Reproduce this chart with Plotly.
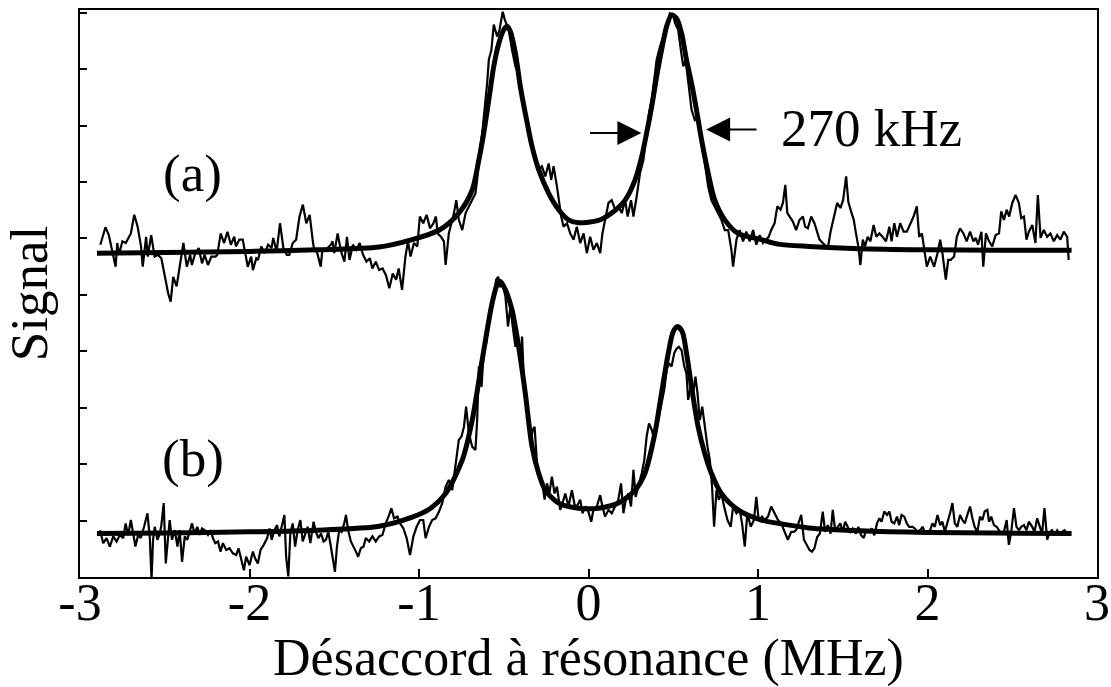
import plotly.graph_objects as go

# --- data (MHz detuning, signal in arbitrary units) ---

# trace (a): measured signal
a_x = [-2.88, -2.85, -2.83, -2.81, -2.79, -2.78, -2.77, -2.75, -2.73, -2.70,
       -2.68, -2.66, -2.64, -2.63, -2.61, -2.60, -2.58, -2.56, -2.54, -2.52,
       -2.50, -2.48, -2.465, -2.45, -2.43, -2.41, -2.39, -2.37, -2.35, -2.34,
       -2.32, -2.30, -2.28, -2.265, -2.245, -2.225, -2.20, -2.19, -2.17, -2.15,
       -2.13, -2.11, -2.09, -2.08, -2.06, -2.04, -2.025, -2.01, -1.99, -1.98,
       -1.96, -1.95, -1.93, -1.91, -1.89, -1.87, -1.86, -1.84, -1.82, -1.80,
       -1.78, -1.765, -1.745, -1.725, -1.705, -1.685, -1.665, -1.645, -1.625, -1.62,
       -1.60, -1.58, -1.57, -1.55, -1.52, -1.51, -1.50, -1.48, -1.46, -1.44,
       -1.425, -1.41, -1.39, -1.37, -1.35, -1.33, -1.31, -1.29, -1.275, -1.255,
       -1.235, -1.215, -1.195, -1.175, -1.155, -1.135, -1.12, -1.10, -1.08, -1.065,
       -1.05, -1.03, -1.01, -0.995, -0.975, -0.955, -0.935, -0.915, -0.90, -0.89,
       -0.87, -0.853,
       -0.843, -0.824, -0.794, -0.780, -0.765, -0.745, -0.725, -0.706, -0.686, -0.667,
       -0.657, -0.647, -0.627, -0.612, -0.598, -0.588, -0.573, -0.559, -0.539, -0.525,
       -0.506, -0.494, -0.471, -0.451, -0.431, -0.412, -0.392, -0.373, -0.353, -0.333,
       -0.314, -0.294, -0.275, -0.255, -0.235, -0.220, -0.206, -0.186, -0.176, -0.161,
       -0.147, -0.127, -0.108, -0.088, -0.069, -0.049, -0.029, -0.010, 0.010, 0.029,
       0.049, 0.069, 0.082, 0.098, 0.118, 0.137, 0.157, 0.176, 0.196, 0.216,
       0.231, 0.251, 0.265, 0.284, 0.304, 0.324, 0.343, 0.357, 0.373, 0.388,
       0.402, 0.422, 0.441, 0.461, 0.480, 0.500, 0.510, 0.529, 0.545, 0.559,
       0.573, 0.588, 0.608, 0.627, 0.647, 0.667, 0.686, 0.706, 0.725, 0.745,
       0.765, 0.784, 0.804, 0.824, 0.843, 0.853, 0.873, 0.892,
       0.912, 0.931, 0.951, 0.971, 0.990, 1.010, 1.029, 1.049, 1.063, 1.078,
       1.098, 1.114, 1.133, 1.147, 1.161, 1.173, 1.186, 1.206, 1.225, 1.245,
       1.265, 1.278, 1.294, 1.314, 1.333, 1.349, 1.363, 1.382, 1.412, 1.428,
       1.447, 1.467, 1.486, 1.502, 1.520, 1.533, 1.549, 1.565, 1.578, 1.592,
       1.604, 1.618, 1.631, 1.647, 1.663, 1.682, 1.698, 1.716, 1.735, 1.755,
       1.775, 1.788, 1.804, 1.820, 1.839, 1.859, 1.878, 1.898, 1.918, 1.937,
       1.951, 1.967, 1.980, 1.996, 2.016, 2.039, 2.059, 2.075, 2.088, 2.108,
       2.122, 2.137, 2.157, 2.173, 2.192, 2.212, 2.231, 2.251, 2.271, 2.284,
       2.298, 2.318, 2.329, 2.345, 2.363, 2.382, 2.402, 2.422, 2.435, 2.451,
       2.467, 2.482, 2.500, 2.520, 2.539, 2.553, 2.569, 2.584, 2.598, 2.618,
       2.637, 2.651, 2.667, 2.686, 2.706, 2.725, 2.745, 2.765, 2.784, 2.804,
       2.824, 2.833]
a_y = [5.89, 6.20, 6.06, 5.77, 5.50, 5.92, 5.71, 5.95, 5.92, 6.09,
       6.42, 6.21, 5.86, 5.50, 6.03, 5.68, 6.06, 5.68, 5.71, 5.65,
       5.32, 5.03, 4.88, 5.32, 5.15, 5.50, 5.92, 5.50, 5.71, 5.53,
       5.74, 5.83, 5.56, 5.71, 5.53, 5.68, 5.68, 5.71, 6.09, 5.92,
       6.12, 5.89, 6.03, 5.86, 5.98, 5.98, 5.71, 5.50, 5.68, 5.44,
       5.65, 5.62, 5.86, 5.74, 5.89, 5.83, 6.01, 5.77, 6.27, 5.83,
       5.71, 5.71, 5.92, 5.98, 6.39, 6.60, 6.27, 6.42, 5.92, 5.83,
       5.74, 5.50, 5.80, 5.80, 5.89, 5.95, 5.74, 6.09, 5.77, 5.59,
       6.03, 5.62, 5.89, 5.80, 5.92, 5.71, 5.59, 5.65, 5.47, 5.59,
       5.44, 5.47, 5.35, 5.12, 5.38, 5.27, 5.47, 5.09, 5.68, 5.95,
       5.68, 5.92, 5.86, 6.39, 6.27, 6.42, 6.18, 6.27, 6.39, 6.09,
       6.03, 5.95,
       5.53, 6.09, 6.45, 6.68, 6.33, 6.15, 6.45, 6.57, 6.68, 6.80,
       7.04, 7.45, 7.87, 8.28, 8.75, 9.17, 9.34, 9.79, 9.58, 9.70,
       10.02, 9.88, 9.70, 9.34, 9.05, 8.93, 8.58, 8.22, 7.87, 7.63,
       7.39, 7.22, 7.28, 7.10, 7.33, 7.04, 7.28, 6.92, 6.68, 6.39,
       6.21, 6.27, 6.09, 5.98, 6.21, 5.92, 6.09, 5.74, 6.03, 5.80,
       5.92, 5.74, 6.09, 6.33, 6.63, 6.68, 6.51, 6.57, 6.45, 6.68,
       6.39, 6.68, 6.39, 6.74, 7.16, 7.39, 7.87, 8.22, 8.46, 8.87,
       9.17, 9.40, 9.58, 9.76, 9.99, 9.96, 9.82, 9.70, 9.34, 9.05,
       9.17, 8.75, 8.28, 8.10, 8.16, 7.75, 7.33, 6.92, 6.68, 6.57,
       6.45, 6.33, 6.15, 6.15, 5.80, 5.50, 5.98, 6.15,
       5.95, 6.12, 5.95, 6.15, 5.89, 6.06, 5.92, 5.98, 6.03, 6.15,
       6.27, 6.57, 6.51, 6.63, 6.95, 6.45, 6.39, 6.30, 6.15, 6.33,
       6.39, 6.21, 6.18, 6.39, 6.27, 6.09, 5.98, 5.92, 5.83, 6.12,
       6.39, 6.63, 6.54, 6.68, 7.10, 6.65, 6.48, 6.33, 6.09, 5.86,
       5.53, 5.98, 5.86, 6.03, 5.95, 6.24, 6.03, 6.09, 6.03, 5.95,
       6.21, 5.95, 6.27, 6.03, 6.27, 6.12, 6.12, 6.27, 6.39, 6.57,
       6.03, 6.09, 5.86, 5.50, 5.68, 5.50, 5.74, 5.98, 5.74, 5.27,
       5.62, 5.62, 5.68, 6.03, 6.18, 6.09, 5.95, 6.12, 5.95, 6.01,
       5.89, 6.12, 5.50, 6.09, 5.95, 5.86, 6.06, 6.09, 6.48, 6.33,
       6.51, 6.39, 6.63, 6.77, 6.63, 6.36, 6.39, 5.98, 6.12, 6.24,
       5.92, 6.77, 6.01, 6.15, 6.03, 6.09, 5.95, 6.06, 5.98, 6.12,
       6.03, 5.62]

# trace (a): fitted curve
fit_a_x = [-2.9, -2.5, -2.0, -1.6, -1.235, -1.04, -0.88, -0.765, -0.686, -0.647,
           -0.618, -0.588, -0.559, -0.529, -0.50, -0.48, -0.461, -0.431, -0.402, -0.373,
           -0.333, -0.294, -0.235, -0.176, -0.118, -0.059, 0.059, 0.137, 0.216, 0.275,
           0.314, 0.343, 0.373, 0.402, 0.431, 0.461, 0.49, 0.52, 0.549, 0.578,
           0.608, 0.637, 0.667, 0.706, 0.745, 0.804, 0.882, 1.02, 1.12, 1.3,
           1.6, 2.0, 2.4, 2.85]
fit_a_y = [5.74, 5.75, 5.77, 5.80, 5.85, 5.98, 6.15, 6.45, 6.86, 7.39,
           7.87, 8.46, 9.05, 9.46, 9.70, 9.76, 9.67, 9.28, 8.69, 8.22,
           7.63, 7.22, 6.80, 6.51, 6.33, 6.28, 6.32, 6.45, 6.68, 7.04,
           7.45, 7.87, 8.34, 8.87, 9.34, 9.76, 9.96, 9.90, 9.64, 9.17,
           8.75, 8.28, 7.75, 7.16, 6.68, 6.33, 6.09, 5.98, 5.90, 5.86,
           5.82, 5.80, 5.79, 5.79]

# trace (b): measured signal
b_x = [-2.882, -2.863, -2.843, -2.824, -2.804, -2.784, -2.765, -2.745, -2.731, -2.716,
       -2.700, -2.686, -2.673, -2.657, -2.641, -2.622, -2.602, -2.588, -2.578, -2.569,
       -2.559, -2.543, -2.529, -2.520, -2.506, -2.494, -2.480, -2.471, -2.457, -2.441,
       -2.425, -2.412, -2.398, -2.382, -2.367, -2.353, -2.339, -2.324, -2.308, -2.294,
       -2.280, -2.265, -2.245, -2.229, -2.216, -2.202, -2.186, -2.171, -2.157, -2.137,
       -2.118, -2.098, -2.078, -2.065, -2.049, -2.033, -2.020, -2.000, -1.980, -1.967,
       -1.951, -1.935, -1.916, -1.896, -1.882, -1.869, -1.853, -1.837, -1.824, -1.810,
       -1.794, -1.784, -1.771, -1.759, -1.745, -1.731, -1.716, -1.700, -1.686, -1.673,
       -1.657, -1.641, -1.622, -1.608, -1.594, -1.578, -1.563, -1.549, -1.535, -1.520,
       -1.496, -1.484, -1.471, -1.457, -1.441, -1.431, -1.418, -1.402, -1.386, -1.372,
       -1.359, -1.343, -1.327, -1.314, -1.294, -1.275, -1.255, -1.235, -1.216, -1.196,
       -1.176, -1.163, -1.147, -1.127, -1.112, -1.092, -1.073, -1.053, -1.033, -1.014,
       -0.994, -0.975, -0.961, -0.941, -0.922, -0.902, -0.882, -0.863,
       -0.843, -0.824, -0.804, -0.784, -0.765, -0.749, -0.735, -0.722, -0.706, -0.686,
       -0.667, -0.657, -0.647, -0.631, -0.618, -0.604, -0.588, -0.573, -0.559, -0.545,
       -0.533, -0.520, -0.506, -0.490, -0.475, -0.461, -0.447, -0.431, -0.416, -0.402,
       -0.392, -0.382, -0.373, -0.357, -0.343, -0.329, -0.318, -0.304, -0.290, -0.275,
       -0.259, -0.245, -0.231, -0.216, -0.200, -0.186, -0.167, -0.153, -0.137, -0.118,
       -0.098, -0.082, -0.069, -0.049, -0.035, -0.020, -0.004, 0.016, 0.029, 0.049,
       0.069, 0.082, 0.098, 0.118, 0.137, 0.157, 0.176, 0.192, 0.206, 0.220,
       0.235, 0.251, 0.265, 0.278, 0.294, 0.314, 0.329, 0.343, 0.357, 0.373,
       0.388, 0.402, 0.416, 0.431, 0.447, 0.461, 0.475, 0.490, 0.506, 0.520,
       0.533, 0.549, 0.565, 0.578, 0.588, 0.604, 0.618, 0.631, 0.643, 0.657,
       0.671, 0.686, 0.702, 0.716, 0.729, 0.741, 0.755, 0.769, 0.784, 0.800,
       0.820, 0.839, 0.853, 0.873, 0.892, 0.906, 0.922, 0.937, 0.957, 0.976,
       0.990, 1.004, 1.024, 1.039, 1.059, 1.078, 1.098, 1.118,
       1.137, 1.157, 1.176, 1.196, 1.212, 1.225, 1.239, 1.255, 1.271, 1.290,
       1.304, 1.318, 1.333, 1.349, 1.365, 1.382, 1.396, 1.412, 1.428, 1.441,
       1.455, 1.471, 1.486, 1.500, 1.514, 1.529, 1.545, 1.559, 1.578, 1.592,
       1.608, 1.624, 1.637, 1.657, 1.671, 1.686, 1.702, 1.716, 1.729, 1.745,
       1.761, 1.775, 1.788, 1.804, 1.820, 1.833, 1.847, 1.863, 1.878, 1.892,
       1.912, 1.925, 1.941, 1.957, 1.971, 1.984, 2.000, 2.016, 2.029, 2.043,
       2.059, 2.075, 2.088, 2.102, 2.118, 2.133, 2.147, 2.161, 2.176, 2.192,
       2.206, 2.220, 2.235, 2.251, 2.265, 2.278, 2.294, 2.310, 2.324, 2.337,
       2.353, 2.363, 2.376, 2.392, 2.408, 2.422, 2.435, 2.451, 2.467, 2.480,
       2.494, 2.510, 2.525, 2.539, 2.553, 2.569, 2.584, 2.598, 2.618, 2.631,
       2.647, 2.663, 2.676, 2.690, 2.706, 2.722, 2.735, 2.749, 2.765, 2.780,
       2.794, 2.808, 2.824, 2.833]
b_y = [0.83, 0.60, 0.69, 0.54, 0.72, 0.63, 0.745, 0.69, 0.95, 0.745,
       1.01, 0.72, 0.54, 0.745, 0.69, 0.89, 1.13, 0.69, -0.05, 0.66,
       0.89, 0.66, 0.77, 0.92, 1.31, 0.24, 0.72, 1.01, 0.66, 0.83,
       0.54, 0.83, 0.27, 0.72, 0.66, 0.83, 0.95, 0.77, 0.89, 0.745,
       0.86, 0.83, 0.745, 0.83, 0.69, 0.60, 0.63, 0.45, 0.60, 0.48,
       0.51, 0.42, 0.39, 0.51, 0.30, 0.12, 0.36, 0.21, 0.45, 0.33,
       0.24, 0.48, 0.57, 0.69, 0.86, 0.66, 0.83, 0.92, 0.72, 0.89,
       1.10, 0.36, 0.01, 0.77, 0.95, 0.54, 0.83, 1.01, 0.63, 0.745,
       0.89, 0.60, 0.98, 0.80, 0.69, 0.77, 0.63, 0.66, 0.80, 0.54,
       0.09, 0.54, 0.83, 0.80, 0.95, 1.10, 0.83, 0.63, 0.54, 0.45,
       0.36, 0.51, 0.54, 0.69, 0.63, 0.72, 0.63, 0.72, 0.745, 0.95,
       1.10, 1.22, 1.04, 1.07, 0.95, 0.86, 0.69, 0.39, 0.72, 0.89,
       1.01, 1.01, 0.69, 0.89, 1.01, 1.04, 1.16, 1.31,
       1.60, 1.72, 1.54, 1.96, 2.43, 2.49, 2.66, 3.02, 2.55, 2.31,
       2.25, 2.78, 3.73, 3.37, 4.02, 4.14, 4.56, 4.73, 5.03, 5.27,
       5.32, 5.15, 5.18, 4.97, 4.44, 4.79, 4.44, 4.08, 4.26, 3.73,
       4.26, 3.55, 3.37, 2.78, 2.37, 2.61, 2.66, 2.02, 1.84, 1.72,
       1.37, 1.66, 1.48, 1.78, 1.48, 1.60, 1.19, 1.31, 1.48, 1.25,
       1.54, 1.28, 1.25, 1.37, 1.13, 1.25, 1.19, 0.98, 1.19, 1.25,
       1.45, 1.25, 1.07, 1.19, 1.13, 1.25, 1.37, 1.66, 1.13, 1.37,
       1.48, 1.25, 1.90, 1.42, 1.60, 1.84, 2.07, 2.49, 2.72, 2.61,
       2.43, 2.66, 2.84, 3.08, 3.32, 3.67, 3.79, 3.73, 3.97, 4.05,
       4.08, 4.02, 3.73, 3.61, 3.14, 3.37, 3.26, 3.55, 3.26, 2.78,
       3.02, 2.66, 2.31, 2.07, 1.60, 0.89, 1.54, 1.37, 1.48, 1.25,
       1.01, 0.89, 1.25, 1.13, 1.19, 0.95, 0.54, 1.13, 0.89, 1.01,
       1.42, 1.01, 1.07, 1.01, 1.07, 1.25, 1.13, 1.01,
       0.95, 0.80, 0.66, 0.80, 0.80, 0.83, 0.95, 1.10, 0.66, 0.57,
       0.48, 0.45, 0.51, 0.71, 0.77, 1.16, 0.80, 0.92, 0.77, 1.19,
       0.83, 0.89, 0.95, 0.80, 0.98, 0.89, 0.80, 0.86, 0.77, 0.89,
       0.74, 0.69, 0.83, 0.80, 0.86, 0.74, 0.95, 1.04, 0.98, 1.16,
       1.10, 1.16, 0.98, 0.95, 1.07, 0.92, 1.10, 1.07, 0.95, 0.89,
       0.89, 0.86, 0.80, 0.83, 0.89, 0.80, 0.80, 0.83, 0.95, 0.89,
       1.10, 0.92, 0.98, 0.80, 0.95, 1.13, 1.31, 0.95, 0.89, 1.10,
       1.01, 0.95, 1.10, 1.25, 1.04, 0.89, 0.80, 1.07, 1.01, 1.16,
       1.19, 0.98, 1.07, 0.92, 0.89, 0.83, 0.77, 0.80, 1.01, 0.57,
       0.80, 1.22, 0.89, 0.83, 0.89, 0.92, 0.83, 0.98, 0.89, 0.80,
       1.04, 0.89, 0.77, 1.22, 0.66, 0.80, 0.83, 0.74, 0.83, 0.77,
       0.80, 0.83, 0.77, 0.80]

# trace (b): fitted curve
fit_b_x = [-2.9, -2.5, -2.0, -1.6, -1.235, -1.04, -0.94, -0.843, -0.745, -0.686,
           -0.627, -0.569, -0.539, -0.52, -0.49, -0.451, -0.412, -0.373, -0.333, -0.294,
           -0.255, -0.176, -0.059, 0.059, 0.176, 0.275, 0.333, 0.392, 0.431, 0.471,
           0.50, 0.525, 0.553, 0.578, 0.608, 0.647, 0.686, 0.725, 0.784, 0.882,
           1.02, 1.12, 1.3, 1.6, 2.0, 2.4, 2.85]
fit_b_y = [0.77, 0.78, 0.80, 0.83, 0.90, 1.06, 1.20, 1.48, 2.07, 2.78,
           3.85, 4.85, 5.18, 5.24, 5.09, 4.73, 4.08, 3.26, 2.31, 1.84,
           1.54, 1.31, 1.22, 1.22, 1.31, 1.54, 1.84, 2.55, 3.26, 3.97,
           4.35, 4.44, 4.35, 3.97, 3.37, 2.66, 2.19, 1.84, 1.48, 1.19,
           1.01, 0.95, 0.87, 0.82, 0.79, 0.78, 0.77]

x_tick_vals = [-3, -2, -1, 0, 1, 2, 3]
x_tick_text = ["-3", "-2", "-1", "0", "1", "2", "3"]
y_tick_vals = [0, 1, 2, 3, 4, 5, 6, 7, 8, 9, 10]

FONT = "Liberation Serif, Times New Roman, serif"

fig = go.Figure()
fig.add_trace(go.Scatter(x=a_x, y=a_y, mode="lines", name="(a) mesure",
                         line=dict(color="black", width=2.2)))
fig.add_trace(go.Scatter(x=fit_a_x, y=fit_a_y, mode="lines", name="(a) ajustement",
                         line=dict(color="black", width=5, shape="spline", smoothing=0.8)))
fig.add_trace(go.Scatter(x=b_x, y=b_y, mode="lines", name="(b) mesure",
                         line=dict(color="black", width=2.2)))
fig.add_trace(go.Scatter(x=fit_b_x, y=fit_b_y, mode="lines", name="(b) ajustement",
                         line=dict(color="black", width=5, shape="spline", smoothing=0.8)))

# labels and the width arrows
fig.add_annotation(x=-2.335, y=7.15, text="(a)", showarrow=False,
                   font=dict(family=FONT, size=53, color="black"))
fig.add_annotation(x=-2.335, y=2.10, text="(b)", showarrow=False,
                   font=dict(family=FONT, size=53, color="black"))
fig.add_annotation(x=1.67, y=7.95, text="270 kHz", showarrow=False,
                   font=dict(family=FONT, size=53, color="black"))
fig.add_annotation(x=0.312, y=7.87, ax=0.0, ay=7.87, axref="x", ayref="y",
                   text="", showarrow=True, arrowhead=2, arrowsize=2.4,
                   arrowwidth=2, arrowcolor="black")
fig.add_annotation(x=0.694, y=7.93, ax=1.0, ay=7.93, axref="x", ayref="y",
                   text="", showarrow=True, arrowhead=2, arrowsize=2.4,
                   arrowwidth=2, arrowcolor="black")

fig.update_layout(
    width=1111, height=687,
    margin=dict(l=80, r=14, t=10, b=110, autoexpand=False),
    plot_bgcolor="white", paper_bgcolor="white",
    showlegend=False,
    font=dict(family=FONT, color="black"),
)
fig.update_xaxes(
    range=[-3, 3], tickvals=x_tick_vals, ticktext=x_tick_text,
    ticks="inside", ticklen=8, tickwidth=2, tickcolor="black",
    showline=True, linewidth=2, linecolor="black", mirror=True,
    showgrid=False, zeroline=False, automargin=False,
    ticklabelstandoff=-21,
    tickfont=dict(family=FONT, size=52, color="black"),
    title=dict(text="Désaccord à résonance (MHz)", standoff=9,
               font=dict(family=FONT, size=52, color="black")),
)
fig.update_yaxes(
    range=[0, 10.05], tickvals=y_tick_vals, showticklabels=False,
    ticks="inside", ticklen=7, tickwidth=2, tickcolor="black",
    showline=True, linewidth=2, linecolor="black", mirror=True,
    showgrid=False, zeroline=False, automargin=False,
    title=dict(text="Signal", standoff=17,
               font=dict(family=FONT, size=53, color="black")),
)

# drop the default page margin so the 1111x687 figure fills the window exactly
fig.write_html("out.html",
               config={"displayModeBar": False},
               post_script="document.body.style.margin='0';"
                           "document.body.style.overflow='hidden';")
